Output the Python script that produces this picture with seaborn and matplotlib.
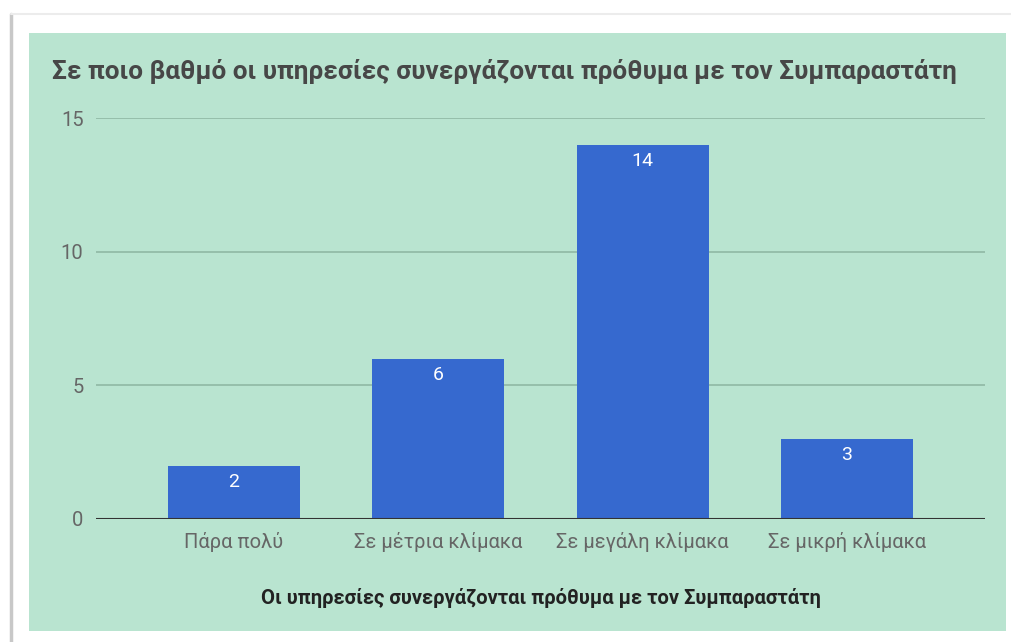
import numpy as np
import matplotlib.pyplot as plt
import matplotlib.patches as mpatches
import matplotlib.lines as mlines
import pandas as pd
import seaborn as sn

categories = ['Πάρα πολύ', 'Σε μέτρια κλίμακα', 'Σε μεγάλη κλίμακα', 'Σε μικρή κλίμακα']
counts = [2, 6, 14, 3]
title = 'Σε ποιο βαθμό οι υπηρεσίες συνεργάζονται πρόθυμα με τον Συμπαραστάτη'
xlabel = 'Οι υπηρεσίες συνεργάζονται πρόθυμα με τον Συμπαραστάτη'
yticks = [0, 5, 10, 15]

panel = '#b9e4d0'
bar_col = '#3669cf'
grid_col = '#8fb8a4'

sn.set_theme(style='white')
plt.rcParams['font.family'] = ['Roboto', 'DejaVu Sans']

W, H = 1011, 642
fig = plt.figure(figsize=(W / 100, H / 100), dpi=100)
fig.patch.set_facecolor('white')

# green card with a faint grey shadow on the left/top
fig.add_artist(mlines.Line2D([11 / W, 11 / W], [0, 1 - 14 / H], color='#c8c8c8', lw=2.5))
fig.add_artist(mlines.Line2D([11 / W, 1], [1 - 14 / H, 1 - 14 / H], color='#ececec', lw=1.5))
fig.add_artist(mpatches.Rectangle((29 / W, 1 - 631 / H), (1006 - 29) / W, (631 - 33) / H,
                                  transform=fig.transFigure, facecolor=panel, edgecolor='none', zorder=0))

ax = fig.add_axes([96 / W, 1 - 519 / H, (985 - 96) / W, (519 - 118) / H])
ax.set_facecolor(panel)

df = pd.DataFrame({'cat': categories, 'n': counts})
sn.barplot(data=df, x='cat', y='n', color=bar_col, width=0.645, saturation=1,
           linewidth=0, ax=ax, zorder=3)

for i, v in enumerate(counts):
    ax.annotate(str(v), (i, v), xytext=(0, -11.5), textcoords='offset points',
                ha='center', va='center', color='white', fontsize=14, zorder=4)

ax.set_xlim(-0.675, 3.675)
ax.set_ylim(0, 15)
ax.set_yticks(yticks)
ax.yaxis.grid(True, color=grid_col, lw=1.2)
ax.set_axisbelow(True)
for s in ax.spines.values():
    s.set_visible(False)
ax.axhline(0, color='#333333', lw=1.5, zorder=5)

ax.tick_params(axis='both', length=0, colors='#666666', labelsize=14.5)
ax.tick_params(axis='y', pad=9)
ax.tick_params(axis='x', pad=9)
ax.set_xlabel(xlabel, fontsize=14.5, fontweight='bold', color='#222222', labelpad=26)
ax.set_ylabel('')

fig.text(52 / W, 1 - 72 / H, title, fontsize=18.8, fontweight='bold', color='#474747',
         ha='left', va='center')

fig.savefig('out.png', dpi=100)
